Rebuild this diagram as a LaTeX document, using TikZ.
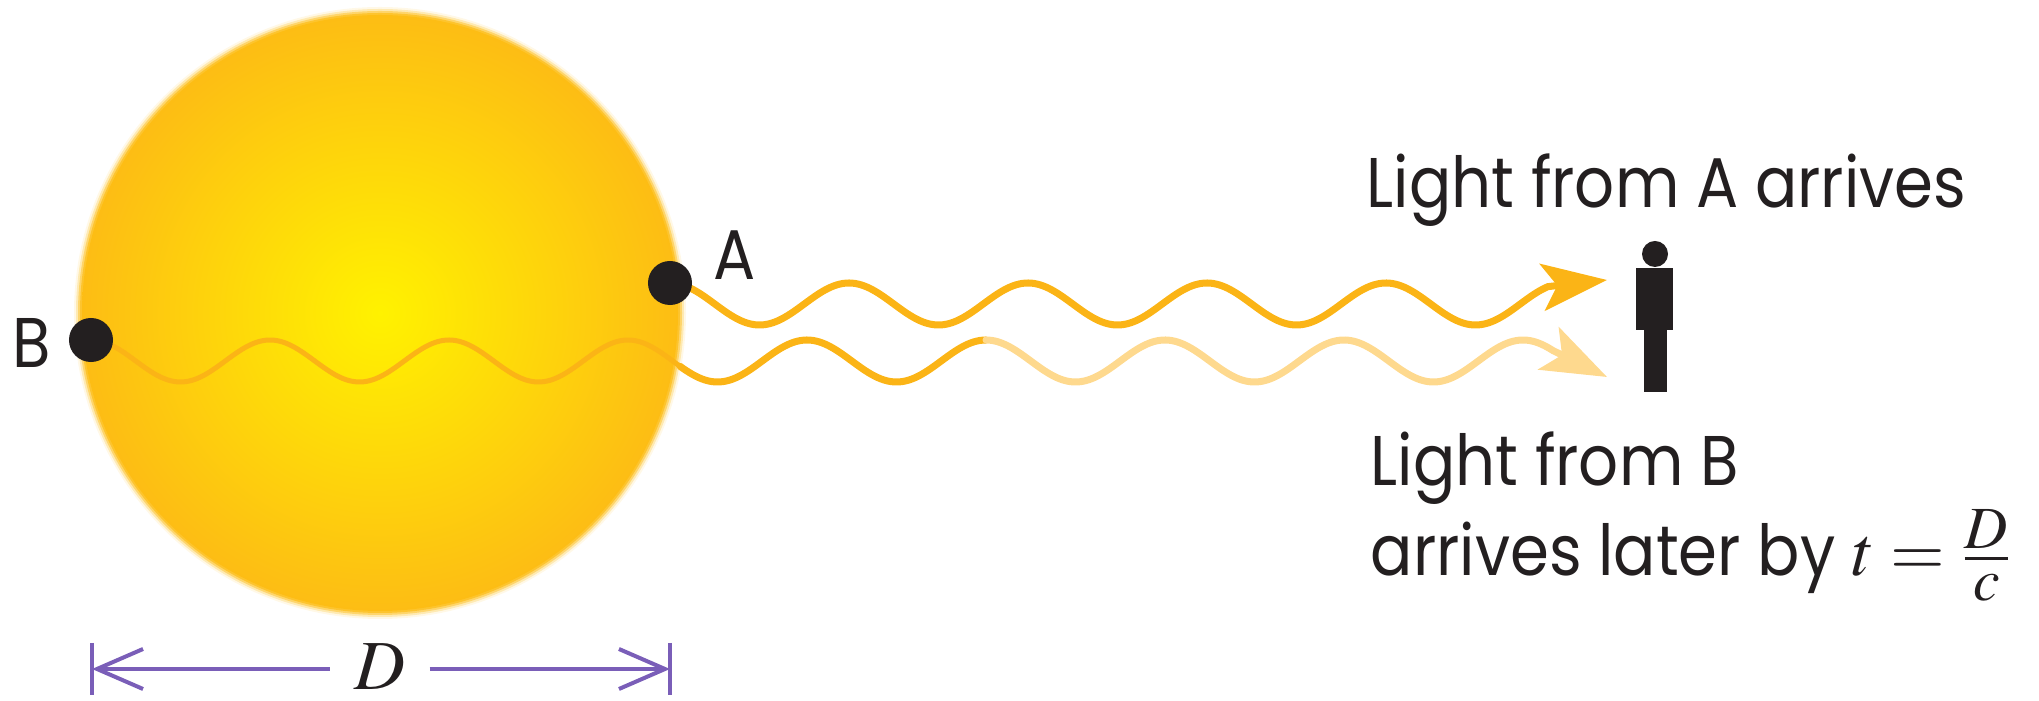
\documentclass[tikz,border=0pt]{standalone}
\usepackage{mathptmx}
\usepackage[no-math]{fontspec}
\setmainfont{Poppins}[FakeStretch=0.89]
\usetikzlibrary{arrows.meta, positioning}
\DeclareMathSizes{20}{20}{17}{12}
\definecolor{sunCore}{RGB}{255,242,0}
\definecolor{sunRim}{RGB}{253,189,20}
\definecolor{rayOrange}{RGB}{251,180,22}
\definecolor{rayPale}{RGB}{254,217,142}
\definecolor{ink}{RGB}{35,31,32}
\definecolor{dimPurple}{RGB}{122,94,184}

\begin{document}
\begin{tikzpicture}[x=0.01cm, y=-0.01cm,
  every node/.style={font=\fontsize{20}{24}\selectfont, text=ink, inner sep=0pt},
  spot/.style={circle, fill=ink, minimum size=0.44cm},
  ray/.style={rayOrange, line width=0.07cm, line cap=round},
  rayfaint/.style={rayPale, line width=0.07cm, line cap=round},
  tip/.style={-{Stealth[length=0.65cm, width=0.47cm, inset=0.15cm]}},
  dimline/.style={dimPurple, line width=0.04cm, >={Straight Barb[length=0.46cm, width=0.4cm]}}]
  \useasboundingbox (0,0) rectangle (2039,701);

  \fill[sunRim, opacity=0.1] (380,313) circle (306);
  \fill[sunRim, opacity=0.25] (380,313) circle (304);
  \fill[sunRim, opacity=0.45] (380,313) circle (302);
  \fill[sunRim, opacity=0.7] (380,313) circle (300);
  \shade[inner color=sunCore, outer color=sunRim] (380,313) circle (298);

  \coordinate (tipA) at (1607,280);
  \coordinate (tipB) at (1607,377);

  \draw[ray, line width=0.05cm] plot[domain=91:680, samples=200] (\x, {361-21*cos((\x-91)/179*360)});
  \draw[ray] plot[domain=680:986, samples=100] (\x, {361-21*cos((\x-91)/179*360)});
  \draw[rayfaint, tip] plot[domain=986:1553, samples=200] (\x, {361-21*cos((\x-91)/179*360)}) -- (tipB);
  \draw[ray, tip] plot[domain=670:1548, samples=300] (\x, {304-21*cos((\x-670)/179*360)}) -- (tipA);

  \node[spot] (A) at (670,283) {};
  \node[spot] (B) at (91,340) {};
  \node (labA) at (735,280) [anchor=base] {A};
  \node (labB) at (32,368) [anchor=base] {B};

  \fill[ink] (1655,254) circle (13);
  \fill[ink] (1636,268) rectangle (1673,330);
  \fill[ink] (1644,329) rectangle (1667,392);

  \node (arrA) at (1366,208) [anchor=base west] {Light from A arrives};
  \node (fromB) at (1370,486) [anchor=base west] {Light from B};
  \node (laterB) at (1370,576) [anchor=base west] {arrives later by $t=\frac{D}{c}$};

  \coordinate (dimL) at (92,669);
  \coordinate (dimR) at (670,669);
  \node (Dlab) at (380,690) [anchor=base, inner xsep=0.235cm] {$D$};
  \draw[dimline, <-] (dimL) -- (Dlab.west |- dimL);
  \draw[dimline, ->] (Dlab.east |- dimR) -- (dimR);
  \draw[dimline] (dimL) ++(0,-26) -- ++(0,52);
  \draw[dimline] (dimR) ++(0,-26) -- ++(0,52);
\end{tikzpicture}
\end{document}
